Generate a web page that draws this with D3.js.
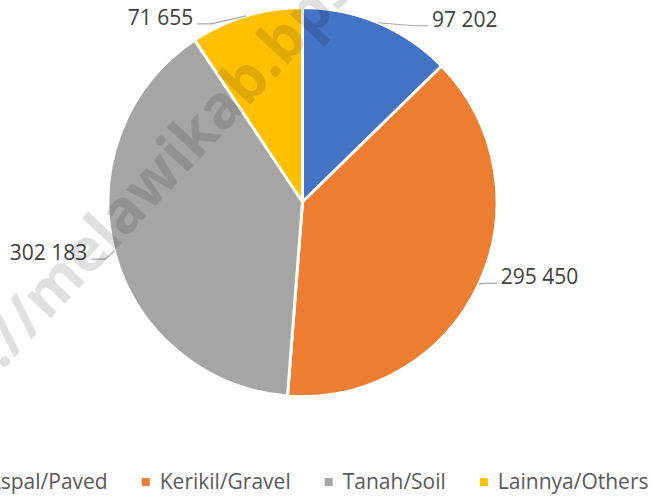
<!DOCTYPE html>
<html>
<head>
<meta charset="utf-8">
<script src="https://cdn.jsdelivr.net/npm/d3@7"></script>
<style>
body { margin: 0; background: #fff; }
svg { display: block; }
</style>
</head>
<body>
<script>
var categories = ["Aspal/Paved", "Kerikil/Gravel", "Tanah/Soil", "Lainnya/Others"];
var values = [97202, 295450, 302183, 71655];
var colors = ["#4472c4", "#ed7d31", "#a5a5a5", "#ffc000"];
// where excel pushed each data label away from the slice edge
var labelNudge = [[50, 3], [18, -1], [-23, 8], [-49, 8]];

var width = 652, height = 496,
    cx = 302.5, cy = 202, radius = 194.5;

var fmt = d3.formatLocale({decimal: ",", thousands: " ", grouping: [3], currency: ["", ""]}).format(",d");

var svg = d3.select("body").append("svg")
    .attr("width", width)
    .attr("height", height);

var pie = d3.pie()
    .sort(null)
    .value(function(d) { return d; });

var arcs = pie(values);

var arc = d3.arc()
    .innerRadius(0)
    .outerRadius(radius);

var edge = d3.arc()
    .innerRadius(radius)
    .outerRadius(radius);

var g = svg.append("g")
    .attr("transform", "translate(" + cx + "," + cy + ")");

g.selectAll("path.slice")
    .data(arcs)
  .enter().append("path")
    .attr("class", "slice")
    .attr("d", arc)
    .attr("fill", function(d, i) { return colors[i]; })
    .attr("stroke", "#fff")
    .attr("stroke-width", 3)
    .attr("stroke-linejoin", "round");

// data labels with leader lines
arcs.forEach(function(d, i) {
    var p = edge.centroid(d),
        end = [p[0] + labelNudge[i][0], p[1] + labelNudge[i][1]],
        right = end[0] > 0,
        elbow = [end[0] + (right ? -14 : 14), end[1]];
    g.append("polyline")
        .attr("points", [p, elbow, end].map(function(q) { return q.join(","); }).join(" "))
        .attr("fill", "none")
        .attr("stroke", "#a6a6a6")
        .attr("stroke-width", 1.2);
    g.append("text")
        .attr("x", end[0] + (right ? 4 : -4))
        .attr("y", end[1] + 1)
        .attr("text-anchor", right ? "start" : "end")
        .style("font-family", "'Open Sans', sans-serif")
        .style("font-size", "21px")
        .attr("fill", "#404040")
        .text(fmt(values[i]));
});

// legend, centred under the chart
var legend = svg.append("g").attr("class", "legend");
var items = legend.selectAll("g")
    .data(categories)
  .enter().append("g");
items.append("rect")
    .attr("width", 8)
    .attr("height", 8)
    .attr("y", 478)
    .attr("fill", function(d, i) { return colors[i]; });
items.append("text")
    .attr("x", 18)
    .attr("y", 489)
    .style("font-family", "'Open Sans', sans-serif")
    .style("font-size", "21px")
    .attr("fill", "#595959")
    .text(function(d) { return d; });
var offs = [], total = 0;
items.each(function(d, i) {
    var w = 18 + this.querySelector("text").getComputedTextLength();
    offs.push(total);
    total += w + (i < categories.length - 1 ? 34 : 0);
});
var legendX = 309 - total / 2;
items.attr("transform", function(d, i) { return "translate(" + (legendX + offs[i]) + ",0)"; });

// watermark
var wm = svg.append("g")
    .attr("transform", "translate(14,358) rotate(-47)")
    .style("font-family", "'Open Sans', sans-serif")
    .style("font-weight", "bold")
    .style("font-size", "60px")
    .attr("fill", "#000")
    .attr("fill-opacity", 0.12);
wm.append("text").attr("text-anchor", "end").text("http:");
wm.append("text").attr("text-anchor", "start").text("//melawikab.bps.go.id");
</script>
</body>
</html>
